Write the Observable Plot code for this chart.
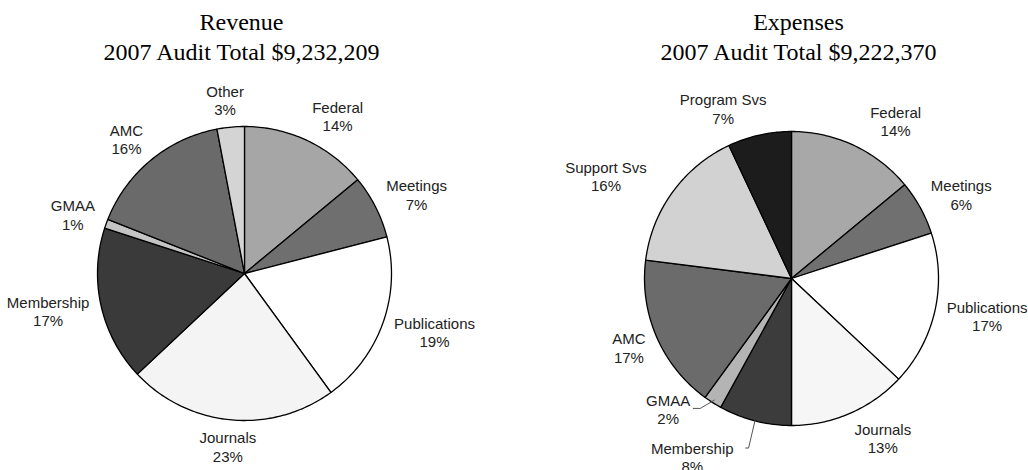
<!DOCTYPE html>
<html>
<head>
<meta charset="utf-8">
<script src="https://cdn.jsdelivr.net/npm/d3@7"></script>
<script src="https://cdn.jsdelivr.net/npm/@observablehq/plot@0.6"></script>
<style>
  body { margin: 0; background: #fff; }
  #charts { display: flex; width: 1028px; height: 470px; }
  #charts svg { display: block; }
</style>
</head>
<body>
<div id="charts"></div>
<script>
// ---- data ----
const revenueTitle = "Revenue\n2007 Audit Total $9,232,209";
const revenueCategories = ["Federal", "Meetings", "Publications", "Journals", "Membership", "GMAA", "AMC", "Other"];
const revenuePercents = [14, 7, 19, 23, 17, 1, 16, 3];
const revenueFills = ["#a6a6a6", "#6f6f6f", "#ffffff", "#f4f4f4", "#3a3a3a", "#c4c4c4", "#6a6a6a", "#d4d4d4"];

const expenseTitle = "Expenses\n2007 Audit Total $9,222,370";
const expenseCategories = ["Federal", "Meetings", "Publications", "Journals", "Membership", "GMAA", "AMC", "Support Svs", "Program Svs"];
const expensePercents = [14, 6, 17, 13, 8, 2, 17, 16, 7];
const expenseFills = ["#a8a8a8", "#707070", "#ffffff", "#f6f6f6", "#3c3c3c", "#b4b4b4", "#6b6b6b", "#d2d2d2", "#1c1c1c"];

// ---- layout ----
const W = 514, H = 470, R = 147;
const labelFont = "15px 'Liberation Sans'";
const ctx = document.createElement("canvas").getContext("2d");
ctx.font = labelFont;
const textW = (s) => ctx.measureText(s).width;
const clamp = (v) => Math.max(-1, Math.min(1, v));

function pieChart({title, cats, pcts, fills, cx, cy, titleDx, nudges = {}, leaders = {}}) {
  const g = 12, hh = 15;
  let cum = 0;
  const ring = [], labels = [], leaderPts = [];
  cats.forEach((name, i) => {
    const a0 = cum / 100 * 2 * Math.PI;
    cum += pcts[i];
    const a1 = cum / 100 * 2 * Math.PI;
    const n = Math.max(2, Math.ceil((a1 - a0) / (Math.PI / 180)));
    ring.push({key: name, fill: fills[i], x: 0, y: 0});
    for (let k = 0; k <= n; k++) {
      const a = a0 + (a1 - a0) * k / n;
      ring.push({key: name, fill: fills[i], x: Math.sin(a), y: Math.cos(a)});
    }
    ring.push({key: name, fill: fills[i], x: 0, y: 0});
    const m = (a0 + a1) / 2, s = Math.sin(m), c = Math.cos(m);
    const txt = `${name}\n${pcts[i]}%`;
    const hw = Math.max(textW(name), textW(`${pcts[i]}%`)) / 2;
    const nd = nudges[name] || {dx: 0, dy: 0};
    // screen px offsets from pie center (y down)
    const lx = (R + g) * s + hw * clamp(2.5 * s) + nd.dx;
    const ly = -(R + g) * c - hh * c + nd.dy;
    labels.push({text: txt, x: lx / R, y: -ly / R});
    const ld = leaders[name];
    if (ld) {
      const sx = lx + hw + ld.gap, sy = ly + ld.dy;
      leaderPts.push({key: name, x: sx / R, y: -sy / R});
      leaderPts.push({key: name, x: (sx + ld.elbow) / R, y: -sy / R});
      leaderPts.push({key: name, x: s * ld.r, y: c * ld.r});
    }
  });
  return Plot.plot({
    width: W, height: H,
    margin: 0,
    x: {domain: [-cx / R, (W - cx) / R], axis: null},
    y: {domain: [(cy - H) / R, cy / R], axis: null},
    color: {type: "identity"},
    marks: [
      Plot.line(ring, {x: "x", y: "y", z: "key", fill: "fill", stroke: "#000", strokeWidth: 1.3, strokeLinejoin: "round"}),
      Plot.line(leaderPts, {x: "x", y: "y", z: "key", stroke: "#555", strokeWidth: 1}),
      Plot.text(labels, {x: "x", y: "y", text: "text", fontFamily: "Liberation Sans, Arial, sans-serif", fontSize: 15, lineHeight: 1.22, fill: "#222", textAnchor: "middle", lineAnchor: "middle"}),
      Plot.text([title], {frameAnchor: "top", dx: titleDx, dy: 8, lineAnchor: "top", text: (d) => d, fontFamily: "Liberation Serif, Times New Roman, serif", fontSize: 24, lineHeight: 1.25, fill: "#000"})
    ]
  });
}

const root = document.getElementById("charts");
root.append(pieChart({
  title: revenueTitle, cats: revenueCategories, pcts: revenuePercents, fills: revenueFills,
  cx: 244, cy: 273, titleDx: -16,
  nudges: {Journals: {dx: 5, dy: 0}}
}));
root.append(pieChart({
  title: expenseTitle, cats: expenseCategories, pcts: expensePercents, fills: expenseFills,
  cx: 277, cy: 278, titleDx: 27,
  nudges: {
    "Federal": {dx: 11, dy: 0},
    "Support Svs": {dx: -16, dy: 0},
    "Program Svs": {dx: -10, dy: 0},
    "GMAA": {dx: -16, dy: -16},
    "Membership": {dx: -34, dy: 10}
  },
  leaders: {
    "GMAA": {gap: 3, dy: -1, elbow: 7, r: 0.98},
    "Membership": {gap: 12, dy: -9, elbow: 3, r: 1.0}
  }
}));
</script>
</body>
</html>
